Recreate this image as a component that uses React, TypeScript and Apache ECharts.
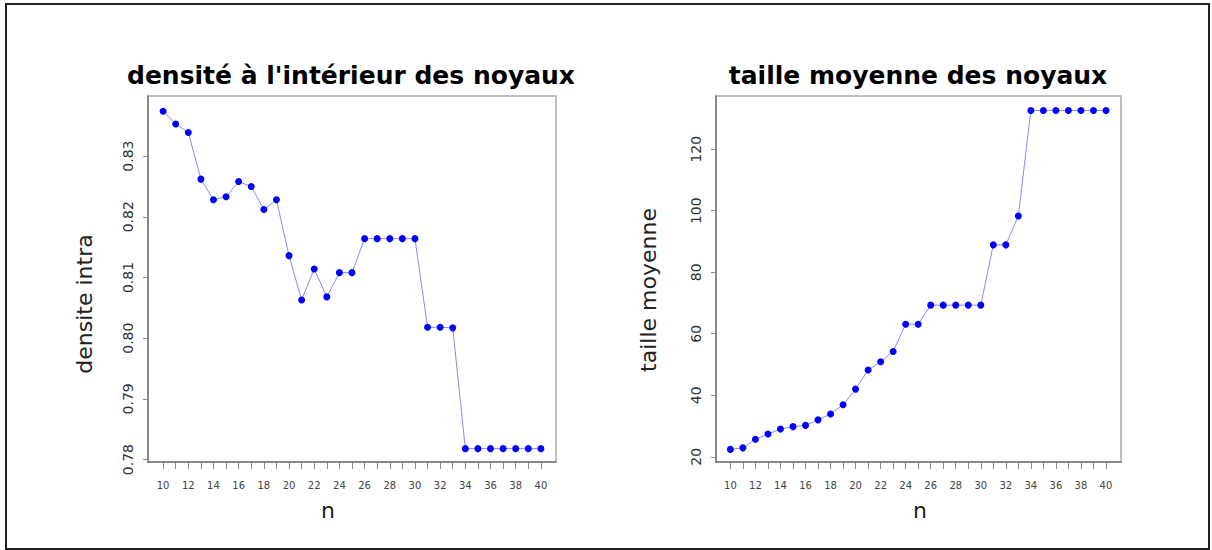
import React, { useEffect, useRef } from "react";
import * as echarts from "echarts";

const nValues = [10, 11, 12, 13, 14, 15, 16, 17, 18, 19, 20, 21, 22, 23, 24, 25, 26, 27, 28, 29, 30, 31, 32, 33, 34, 35, 36, 37, 38, 39, 40];
const densiteIntra = [
  0.8374, 0.8353, 0.8339, 0.8262, 0.8228, 0.8233, 0.8258, 0.825, 0.8212, 0.8228,
  0.8136, 0.8063, 0.8114, 0.8068, 0.8108, 0.8108, 0.8164, 0.8164, 0.8164, 0.8164,
  0.8164, 0.8018, 0.8018, 0.8017, 0.7818, 0.7818, 0.7818, 0.7818, 0.7818, 0.7818, 0.7818,
];
const tailleMoyenne = [
  22.4, 22.9, 25.7, 27.4, 29.0, 29.8, 30.2, 32.0, 33.9, 36.9,
  42.0, 48.2, 50.9, 54.2, 63.1, 63.1, 69.3, 69.3, 69.3, 69.3,
  69.3, 88.9, 88.9, 98.3, 132.6, 132.6, 132.6, 132.6, 132.6, 132.6, 132.6,
];
const xTickValues = nValues;
const xLabelValues = [10, 12, 14, 16, 18, 20, 22, 24, 26, 28, 30, 32, 34, 36, 38, 40];
const yLeftLabels = [0.78, 0.79, 0.8, 0.81, 0.82, 0.83];
const yRightLabels = [20, 40, 60, 80, 100, 120];

const FONT = '"DejaVu Sans", sans-serif';

export default function App() {
  const ref = useRef<HTMLDivElement>(null);
  useEffect(() => {
    if (!ref.current) return;
    const chart = echarts.init(ref.current, undefined, { renderer: "svg" });
    const xAxisCommon = (gridIndex: number, min: number) => ({
      type: "value",
      gridIndex,
      min,
      max: 41.2,
      splitLine: { show: false },
      axisLine: { show: true, lineStyle: { color: "#777", width: 1.5 } },
      axisTick: { show: true, customValues: xTickValues, length: 7, lineStyle: { color: "#888", width: 1 } },
      axisLabel: {
        customValues: xLabelValues,
        fontSize: 10,
        fontFamily: FONT,
        color: "#444",
        margin: 18,
      },
    });
    const yAxisCommon = (gridIndex: number, min: number, max: number, labels: number[], fmt: (v: number) => string) => ({
      type: "value",
      gridIndex,
      min,
      max,
      splitLine: { show: false },
      axisLine: { show: true, lineStyle: { color: "#777", width: 1.5 } },
      axisTick: { show: true, customValues: labels, length: 5, lineStyle: { color: "#888", width: 1 } },
      axisLabel: {
        customValues: labels,
        rotate: 90,
        fontSize: 14,
        fontFamily: FONT,
        color: "#333",
        margin: 13,
        formatter: (v: number) => fmt(v),
      },
    });
    const seriesStyle = {
      type: "line",
      symbol: "circle",
      symbolSize: 7,
      itemStyle: { color: "#0000ff" },
      lineStyle: { color: "#8888ff", width: 1 },
    };
    chart.setOption({
      animation: false,
      backgroundColor: "#fff",
      grid: [
        { left: 148, top: 96, width: 408, height: 366, show: true, borderColor: "#aaa", borderWidth: 1.5 },
        { left: 716, top: 96, width: 405, height: 366, show: true, borderColor: "#aaa", borderWidth: 1.5 },
      ],
      xAxis: [xAxisCommon(0, 8.8), xAxisCommon(1, 8.85)],
      yAxis: [
        yAxisCommon(0, 0.7796, 0.8399, yLeftLabels, (v) => v.toFixed(2)),
        yAxisCommon(1, 18.3, 137.3, yRightLabels, (v) => String(Math.round(v))),
      ],
      series: [
        { ...seriesStyle, xAxisIndex: 0, yAxisIndex: 0, data: nValues.map((n, i) => [n, densiteIntra[i]]) },
        { ...seriesStyle, xAxisIndex: 1, yAxisIndex: 1, data: nValues.map((n, i) => [n, tailleMoyenne[i]]) },
      ],
      graphic: [
        {
          type: "rect",
          shape: { x: 6, y: 4, width: 1203, height: 545 },
          style: { fill: "none", stroke: "#222", lineWidth: 2 },
          silent: true,
        },
        {
          type: "text",
          x: 351,
          y: 75,
          style: { text: "densité à l'intérieur des noyaux", font: `bold 25px ${FONT}`, fill: "#000", align: "center", verticalAlign: "middle" },
        },
        {
          type: "text",
          x: 918,
          y: 75,
          style: { text: "taille moyenne des noyaux", font: `bold 25px ${FONT}`, fill: "#000", align: "center", verticalAlign: "middle" },
        },
        {
          type: "text",
          x: 84,
          y: 304,
          rotation: Math.PI / 2,
          style: { text: "densite intra", font: `22px ${FONT}`, fill: "#222", align: "center", verticalAlign: "middle" },
        },
        {
          type: "text",
          x: 648,
          y: 290,
          rotation: Math.PI / 2,
          style: { text: "taille moyenne", font: `22px ${FONT}`, fill: "#222", align: "center", verticalAlign: "middle" },
        },
        {
          type: "text",
          x: 328,
          y: 510,
          style: { text: "n", font: `22px ${FONT}`, fill: "#222", align: "center", verticalAlign: "middle" },
        },
        {
          type: "text",
          x: 920,
          y: 510,
          style: { text: "n", font: `22px ${FONT}`, fill: "#222", align: "center", verticalAlign: "middle" },
        },
      ],
    });
    return () => chart.dispose();
  }, []);
  return <div ref={ref} style={{ position: "fixed", left: 0, top: 0, width: 1212, height: 550 }} />;
}
